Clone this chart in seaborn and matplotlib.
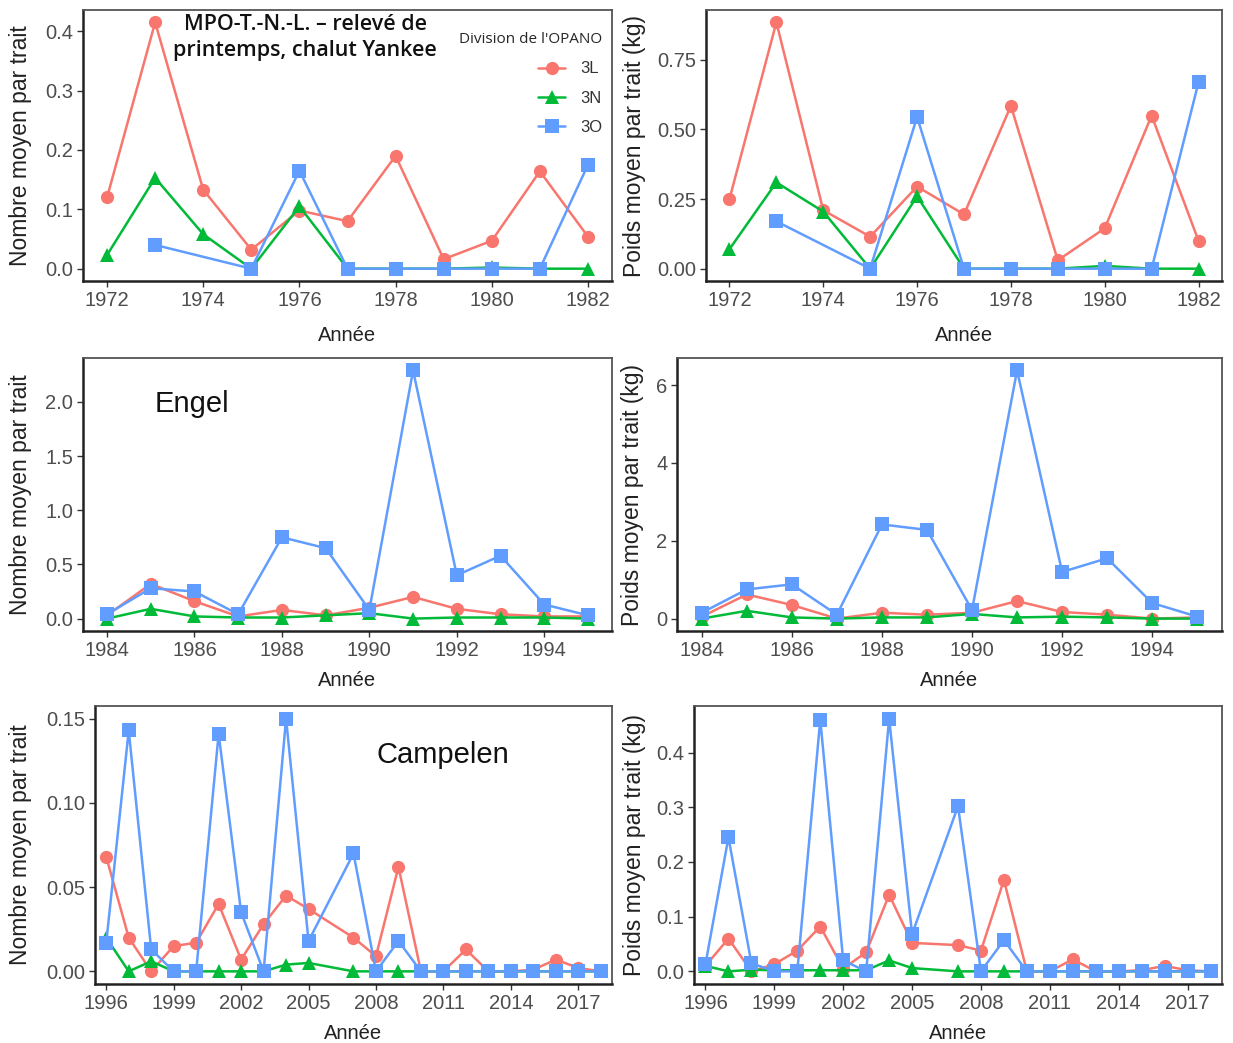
import numpy as np
import pandas as pd
import matplotlib
matplotlib.use("Agg")
import matplotlib.pyplot as plt
import seaborn as sns

# ---------------- data ----------------
years_yankee = [1972, 1973, 1974, 1975, 1976, 1977, 1978, 1979, 1980, 1981, 1982]
num_yankee_3L = [0.12, 0.415, 0.133, 0.032, 0.098, 0.080, 0.190, 0.016, 0.047, 0.164, 0.054]
num_yankee_3N = [0.023, 0.153, 0.058, 0.0, 0.105, 0.0, 0.0, 0.0, 0.002, 0.0, 0.0]
num_yankee_3O = [None, 0.040, None, 0.0, 0.165, 0.0, 0.0, 0.0, 0.0, 0.0, 0.175]
wt_yankee_3L = [0.25, 0.885, 0.21, 0.115, 0.295, 0.195, 0.585, 0.03, 0.145, 0.55, 0.10]
wt_yankee_3N = [0.07, 0.31, 0.205, 0.0, 0.26, 0.0, 0.0, 0.0, 0.01, 0.0, 0.0]
wt_yankee_3O = [None, 0.17, None, 0.0, 0.545, 0.0, 0.0, 0.0, 0.0, 0.0, 0.67]

years_engel = [1984, 1985, 1986, 1987, 1988, 1989, 1990, 1991, 1992, 1993, 1994, 1995]
num_engel_3L = [0.03, 0.32, 0.16, 0.02, 0.08, 0.03, 0.10, 0.20, 0.09, 0.04, 0.02, 0.02]
num_engel_3N = [0.0, 0.09, 0.02, 0.01, 0.01, 0.03, 0.05, 0.0, 0.01, 0.01, 0.01, 0.0]
num_engel_3O = [0.04, 0.28, 0.25, 0.04, 0.75, 0.65, 0.08, 2.29, 0.40, 0.58, 0.13, 0.03]
wt_engel_3L = [0.05, 0.62, 0.35, 0.0, 0.15, 0.10, 0.15, 0.45, 0.17, 0.10, 0.0, 0.03]
wt_engel_3N = [0.0, 0.20, 0.03, 0.0, 0.03, 0.03, 0.12, 0.03, 0.05, 0.03, 0.0, 0.0]
wt_engel_3O = [0.15, 0.75, 0.88, 0.10, 2.42, 2.28, 0.22, 6.38, 1.20, 1.55, 0.40, 0.05]

years_camp = [1996, 1997, 1998, 1999, 2000, 2001, 2002, 2003, 2004, 2005, 2007,
              2008, 2009, 2010, 2011, 2012, 2013, 2014, 2015, 2016, 2017, 2018]
num_camp_3L = [0.068, 0.020, 0.0, 0.015, 0.017, 0.040, 0.007, 0.028, 0.045, 0.037, 0.020,
               0.009, 0.062, 0.0, 0.0, 0.013, 0.0, 0.0, 0.001, 0.007, 0.002, 0.0]
num_camp_3N = [0.020, 0.0, 0.006, 0.0, 0.0, 0.0, 0.0, 0.0, 0.004, 0.005, 0.0,
               0.0, 0.0, 0.0, 0.0, 0.0, 0.0, 0.0, 0.0, 0.0, 0.0, 0.0]
num_camp_3O = [0.017, 0.143, 0.013, 0.0, 0.0, 0.141, 0.035, 0.0, 0.150, 0.018, 0.070,
               0.0, 0.018, 0.0, 0.0, 0.0, 0.0, 0.0, 0.0, 0.0, 0.0, 0.0]
wt_camp_3L = [0.010, 0.060, 0.0, 0.013, 0.038, 0.082, 0.005, 0.035, 0.140, 0.052, 0.048,
              0.038, 0.167, 0.0, 0.0, 0.022, 0.0, 0.0, 0.002, 0.010, 0.002, 0.0]
wt_camp_3N = [0.010, 0.0, 0.003, 0.002, 0.002, 0.002, 0.002, 0.002, 0.020, 0.006, 0.0,
              0.0, 0.0, 0.0, 0.0, 0.0, 0.0, 0.0, 0.0, 0.0, 0.0, 0.0]
wt_camp_3O = [0.013, 0.245, 0.015, 0.0, 0.0, 0.460, 0.020, 0.0, 0.462, 0.068, 0.302,
              0.0, 0.057, 0.0, 0.0, 0.0, 0.0, 0.0, 0.0, 0.0, 0.0, 0.0]

divisions = ["3L", "3N", "3O"]
colors = {"3L": "#F8766D", "3N": "#00BA38", "3O": "#619CFF"}
markers = {"3L": "o", "3N": "^", "3O": "s"}


def long_df(years, s3l, s3n, s3o):
    rows = []
    for div, vals in zip(divisions, [s3l, s3n, s3o]):
        for y, v in zip(years, vals):
            if v is not None:
                rows.append({"Année": y, "val": v, "Division": div})
    return pd.DataFrame(rows)


panels = [
    # data, pixel box (left, top, right, bottom), xlim, xticks, yticks, yfmt, ylabel, ylabel right edge px
    (long_df(years_yankee, num_yankee_3L, num_yankee_3N, num_yankee_3O),
     (83, 10, 612, 281), (1971.5, 1982.5), list(range(1972, 1983, 2)),
     [0.0, 0.1, 0.2, 0.3, 0.4], "{:.1f}", "Nombre moyen par trait", 32),
    (long_df(years_yankee, wt_yankee_3L, wt_yankee_3N, wt_yankee_3O),
     (706, 10, 1222, 281), (1971.5, 1982.5), list(range(1972, 1983, 2)),
     [0.0, 0.25, 0.5, 0.75], "{:.2f}", "Poids moyen par trait (kg)", 646),
    (long_df(years_engel, num_engel_3L, num_engel_3N, num_engel_3O),
     (83, 358, 612, 631), (1983.45, 1995.55), list(range(1984, 1995, 2)),
     [0.0, 0.5, 1.0, 1.5, 2.0], "{:.1f}", "Nombre moyen par trait", 32),
    (long_df(years_engel, wt_engel_3L, wt_engel_3N, wt_engel_3O),
     (677, 358, 1222, 631), (1983.45, 1995.55), list(range(1984, 1995, 2)),
     [0, 2, 4, 6], "{:.0f}", "Poids moyen par trait (kg)", 644),
    (long_df(years_camp, num_camp_3L, num_camp_3N, num_camp_3O),
     (95, 706, 612, 984), (1995.5, 2018.5), list(range(1996, 2018, 3)),
     [0.0, 0.05, 0.10, 0.15], "{:.2f}", "Nombre moyen par trait", 32),
    (long_df(years_camp, wt_camp_3L, wt_camp_3N, wt_camp_3O),
     (694, 706, 1222, 984), (1995.5, 2018.5), list(range(1996, 2018, 3)),
     [0.0, 0.1, 0.2, 0.3, 0.4], "{:.1f}", "Poids moyen par trait (kg)", 646),
]

sns.set_theme(style="white")
plt.rcParams["font.family"] = ["Liberation Sans", "DejaVu Sans"]

W, H = 1233, 1043
fig = plt.figure(figsize=(W / 100, H / 100), dpi=100)
fig.patch.set_facecolor("white")

axes = []
for i, (df, box, xlim, xticks, yticks, yfmt, ylabel, ylx) in enumerate(panels):
    l, t, r, b = box
    ax = fig.add_axes([l / W, 1 - b / H, (r - l) / W, (b - t) / H])
    sns.lineplot(data=df, x="Année", y="val", hue="Division", style="Division",
                 hue_order=divisions, style_order=divisions,
                 palette=colors, markers=markers, dashes=False,
                 markersize=9.5, markeredgewidth=0, linewidth=1.8,
                 legend=(i == 0), ax=ax)
    ax.set_xlim(*xlim)
    ax.margins(y=0.05)
    ax.set_xticks(xticks)
    ax.set_xticklabels([str(x) for x in xticks])
    ax.set_yticks(yticks)
    ax.set_yticklabels([yfmt.format(v) for v in yticks])
    ax.tick_params(axis="both", which="both", direction="out", length=4, width=1,
                   color="#333333", labelsize=14.5, labelcolor="#4D4D4D", pad=3,
                   bottom=True, left=True)
    for side in ["top", "right"]:
        ax.spines[side].set_color("#555555")
        ax.spines[side].set_linewidth(1.3)
    for side in ["bottom", "left"]:
        ax.spines[side].set_color("#222222")
        ax.spines[side].set_linewidth(1.8)
    ax.set_xlabel("Année", fontsize=14.5, color="#222222", labelpad=12 if i < 2 else 8)
    ax.set_ylabel(ylabel, fontsize=16.5, color="#222222")
    ax.yaxis.set_label_coords((ylx - l) / (r - l), 0.5)
    ax.grid(False)
    axes.append(ax)

# legend on the first panel
ax0 = axes[0]
handles, labels = ax0.get_legend_handles_labels()
ax0.legend(handles, labels, title="Division de l'OPANO", loc="upper right",
           bbox_to_anchor=(1.0, 0.955), frameon=False, fontsize=12,
           title_fontproperties={"family": "Open Sans", "size": 11},
           labelcolor="#333333", handlelength=1.6, handletextpad=0.9,
           labelspacing=0.85, alignment="right", borderaxespad=0.3,
           borderpad=0.3)

ax0.text(0.42, 0.985, "MPO-T.-N.-L. – relevé de\nprintemps, chalut Yankee",
         transform=ax0.transAxes, ha="center", va="top", fontsize=15.5,
         family="Open Sans", weight="semibold", color="#111111", linespacing=1.3)

axes[2].text(0.135, 0.83, "Engel", transform=axes[2].transAxes, ha="left",
             va="center", fontsize=21, color="#111111")
axes[4].text(0.545, 0.825, "Campelen", transform=axes[4].transAxes, ha="left",
             va="center", fontsize=21, color="#111111")

fig.savefig("out.png", dpi=100, facecolor="white")
